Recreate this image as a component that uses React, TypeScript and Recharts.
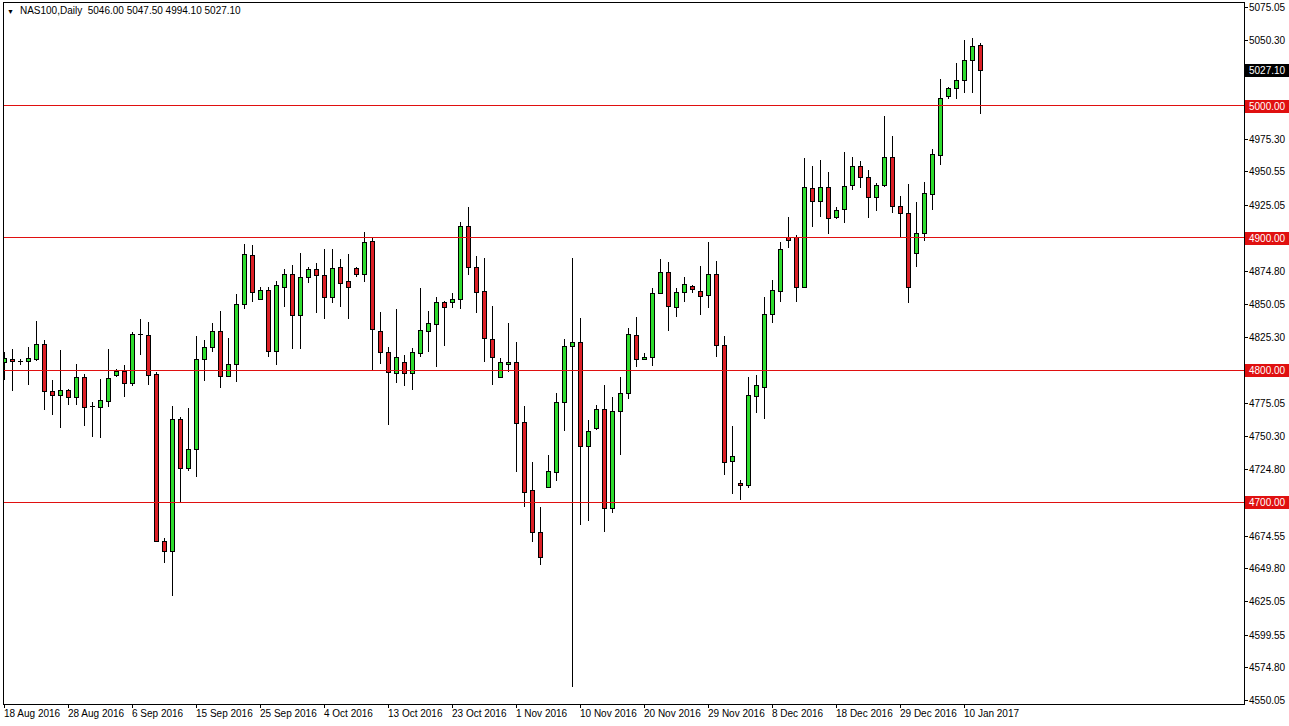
import React from "react";
import { ComposedChart, Bar, XAxis, YAxis, ReferenceLine } from "recharts";

// NAS100 daily bars, 18 Aug 2016 .. 12 Jan 2017
const opens = [
  4806.1, 4808.1, 4806.5, 4806.6, 4808.6, 4819.7, 4784.1, 4780.8, 4784.8, 4779.3,
  4794.5, 4772.7, 4772.2, 4776.7, 4796.4, 4799.5, 4789.9, 4827.0, 4826.3, 4797.0,
  4670.7, 4663.1, 4762.6, 4726.0, 4739.9, 4808.1, 4817.7, 4829.3, 4795.5, 4804.3,
  4850.0, 4887.1, 4854.0, 4860.6, 4814.6, 4863.1, 4872.7, 4841.4, 4870.7, 4876.3,
  4871.7, 4855.5, 4877.8, 4867.4, 4877.0, 4872.5, 4897.5, 4829.5, 4813.9, 4797.5,
  4806.3, 4797.5, 4813.1, 4829.8, 4834.6, 4851.3, 4851.3, 4853.6, 4909.1, 4877.8,
  4859.6, 4823.3, 4794.9, 4804.5, 4805.8, 4760.4, 4708.9, 4677.0, 4711.1, 4723.0,
  4775.5, 4818.2, 4821.0, 4742.4, 4756.3, 4770.7, 4695.2, 4768.9, 4782.3, 4826.5,
  4808.1, 4809.6, 4858.6, 4874.0, 4848.0, 4858.9, 4863.9, 4860.1, 4856.8, 4872.7,
  4818.7, 4730.8, 4714.6, 4712.7, 4780.5, 4787.4, 4842.4, 4860.1, 4900.5, 4900.5,
  4863.1, 4937.7, 4928.3, 4938.9, 4916.1, 4921.7, 4939.9, 4954.5, 4946.4, 4931.3,
  4940.2, 4961.6, 4924.2, 4919.2, 4888.4, 4903.6, 4933.3, 4962.9, 5007.6, 5013.4,
  5019.7, 5034.8, 5046.0,
];
const highs = [
  4813.6, 4815.7, 4808.6, 4817.2, 4837.3, 4822.7, 4792.4, 4815.2, 4785.5, 4804.5,
  4797.0, 4776.0, 4793.2, 4815.7, 4801.0, 4803.6, 4829.0, 4838.4, 4836.4, 4798.5,
  4672.5, 4772.7, 4764.6, 4771.0, 4825.8, 4822.7, 4835.4, 4844.7, 4824.0, 4857.6,
  4895.5, 4894.7, 4862.6, 4862.6, 4867.7, 4876.3, 4879.5, 4888.9, 4878.3, 4880.8,
  4891.4, 4891.4, 4883.9, 4887.9, 4878.3, 4904.8, 4901.0, 4843.9, 4817.7, 4846.0,
  4811.4, 4816.4, 4861.9, 4844.9, 4855.1, 4852.3, 4858.6, 4912.4, 4923.7, 4886.4,
  4884.6, 4848.5, 4808.9, 4835.4, 4821.4, 4772.7, 4730.0, 4696.0, 4735.6, 4782.8,
  4823.3, 4884.8, 4839.4, 4762.1, 4773.5, 4788.6, 4779.3, 4794.5, 4831.6, 4839.9,
  4812.6, 4861.9, 4883.9, 4882.0, 4861.9, 4870.2, 4864.5, 4878.8, 4897.2, 4882.8,
  4825.8, 4757.6, 4716.7, 4794.5, 4796.2, 4855.1, 4868.2, 4897.2, 4915.7, 4902.3,
  4960.4, 4954.5, 4959.1, 4950.2, 4923.7, 4965.4, 4961.6, 4958.6, 4951.5, 4941.9,
  4992.4, 4977.3, 4931.8, 4940.7, 4927.0, 4942.2, 4967.2, 5020.2, 5014.2, 5032.8,
  5050.0, 5051.3, 5047.5,
];
const lows = [
  4792.4, 4784.3, 4803.5, 4788.6, 4806.8, 4769.7, 4765.9, 4755.8, 4773.5, 4773.5,
  4757.6, 4749.5, 4748.5, 4772.2, 4794.5, 4779.8, 4788.1, 4811.4, 4788.6, 4669.5,
  4654.0, 4628.8, 4699.8, 4723.7, 4719.2, 4791.9, 4813.9, 4786.1, 4794.9, 4791.1,
  4846.0, 4851.7, 4853.0, 4810.1, 4804.0, 4848.0, 4815.7, 4816.1, 4866.1, 4843.0,
  4838.4, 4851.0, 4847.5, 4838.4, 4870.2, 4866.4, 4799.5, 4804.5, 4758.3, 4790.4,
  4788.1, 4784.8, 4810.1, 4813.9, 4802.5, 4818.2, 4846.7, 4846.0, 4872.0, 4843.4,
  4806.3, 4788.6, 4793.7, 4798.7, 4723.0, 4696.4, 4670.0, 4652.3, 4710.5, 4716.1,
  4754.0, 4560.1, 4682.3, 4685.8, 4754.5, 4677.0, 4691.4, 4735.6, 4777.8, 4802.5,
  4807.6, 4803.0, 4857.6, 4829.8, 4840.0, 4851.7, 4858.1, 4841.7, 4846.7, 4809.6,
  4720.5, 4706.1, 4701.5, 4710.4, 4767.2, 4762.6, 4835.8, 4851.7, 4892.2, 4851.7,
  4861.9, 4908.1, 4916.1, 4903.0, 4914.2, 4911.6, 4936.4, 4937.7, 4915.4, 4920.5,
  4938.4, 4918.7, 4899.8, 4850.5, 4878.3, 4898.0, 4921.2, 4955.3, 5005.1, 5005.1,
  5010.1, 5010.1, 4994.1,
];
const closes = [
  4809.1, 4806.6, 4806.6, 4808.9, 4819.7, 4783.9, 4780.8, 4784.8, 4779.3, 4794.5,
  4772.2, 4772.7, 4777.3, 4793.7, 4799.5, 4789.9, 4827.0, 4827.0, 4796.4, 4670.7,
  4663.1, 4762.6, 4726.0, 4739.9, 4808.1, 4817.2, 4829.3, 4795.5, 4804.3, 4850.0,
  4887.9, 4859.3, 4860.6, 4814.6, 4864.4, 4872.7, 4841.4, 4870.2, 4876.3, 4871.7,
  4855.5, 4877.0, 4866.1, 4862.6, 4872.5, 4896.7, 4830.8, 4813.4, 4798.7, 4809.6,
  4798.0, 4813.4, 4830.3, 4835.4, 4851.3, 4847.5, 4853.8, 4909.1, 4877.8, 4859.1,
  4824.0, 4810.1, 4805.8, 4806.1, 4759.6, 4707.8, 4677.0, 4658.6, 4723.3, 4775.5,
  4818.2, 4821.0, 4742.4, 4753.8, 4770.5, 4695.2, 4768.9, 4782.3, 4827.0, 4808.1,
  4809.6, 4858.6, 4874.0, 4848.7, 4858.9, 4864.9, 4861.1, 4856.1, 4872.7, 4818.7,
  4730.3, 4734.8, 4712.7, 4781.1, 4788.6, 4842.4, 4860.6, 4891.7, 4898.5, 4863.1,
  4938.4, 4928.3, 4938.9, 4914.9, 4921.2, 4939.6, 4954.5, 4946.0, 4931.3, 4940.2,
  4961.6, 4924.2, 4919.2, 4863.1, 4904.0, 4933.9, 4963.6, 5005.8, 5013.4, 5019.7,
  5034.8, 5045.5, 5027.1,
];

const dateLabels = [
  "18 Aug 2016", "28 Aug 2016", "6 Sep 2016", "15 Sep 2016", "25 Sep 2016",
  "4 Oct 2016", "13 Oct 2016", "23 Oct 2016", "1 Nov 2016", "10 Nov 2016",
  "20 Nov 2016", "29 Nov 2016", "8 Dec 2016", "18 Dec 2016", "29 Dec 2016",
  "10 Jan 2017",
];
const dateTickBars = [0, 8, 16, 24, 32, 40, 48, 56, 64, 72, 80, 88, 96, 104, 112, 120];

const priceTicks = [
  5075.05, 5050.3, 4975.3, 4950.55, 4925.05, 4874.8, 4850.05, 4825.3,
  4775.05, 4750.3, 4724.8, 4674.55, 4649.8, 4625.05, 4599.55, 4574.8, 4550.05,
];
const levels = [5000, 4900, 4800, 4700];
const lastPrice = 5027.1;

const UP = "#2edc2e";
const DOWN = "#dc1f26";
const LEVEL = "#e01010";
const FONT = "'Liberation Sans', Arial, sans-serif";

const data = opens.map((o, i) => ({
  bar: i,
  open: o,
  high: highs[i],
  low: lows[i],
  close: closes[i],
  range: [lows[i], highs[i]],
}));

const Candle = (props: any) => {
  const { x, y, width, height, payload } = props;
  if (x == null || y == null) return null;
  const { open, close, high, low } = payload;
  const top = Math.min(y, y + height);
  const h = Math.abs(height);
  const k = h / (high - low);
  const py = (v: number) => top + (high - v) * k;
  const c = Math.round(x + width / 2);
  const yo = Math.round(py(open));
  const yc = Math.round(py(close));
  const bTop = Math.min(yo, yc);
  const bBot = Math.max(yo, yc);
  const up = close >= open;
  return (
    <g shapeRendering="crispEdges">
      <line x1={c - 0.5} x2={c - 0.5} y1={Math.round(top)} y2={Math.round(top + h)} stroke="#000" strokeWidth={1} />
      {bBot - bTop < 1 ? (
        <line x1={c - 3} x2={c + 2} y1={bTop + 0.5} y2={bTop + 0.5} stroke="#000" strokeWidth={1} />
      ) : (
        <rect x={c - 2.5} y={bTop + 0.5} width={4} height={bBot - bTop} fill={up ? UP : DOWN} stroke="#000" strokeWidth={1} />
      )}
    </g>
  );
};

const PriceTick = (props: any) => {
  const { x, y, payload } = props;
  const v = payload.value;
  const isLevel = levels.includes(v);
  const isLast = v === lastPrice;
  const ry = Math.round(y);
  if (isLevel || isLast) {
    return (
      <g>
        <rect x={x + 1} y={ry - 6} width={44} height={13} fill={isLast ? "#000" : LEVEL} />
        <text x={x + 5} y={ry + 4} fontSize={10} fontFamily={FONT} fill="#fff">
          {v.toFixed(2)}
        </text>
      </g>
    );
  }
  return (
    <g>
      <line x1={x} x2={x + 4} y1={ry + 0.5} y2={ry + 0.5} stroke="#000" shapeRendering="crispEdges" />
      <text x={x + 5} y={ry + 4} fontSize={10} fontFamily={FONT} fill="#000">
        {v.toFixed(2)}
      </text>
    </g>
  );
};

const DateTick = (props: any) => {
  const { x, y, payload } = props;
  const k = dateTickBars.indexOf(payload.value);
  const cx = Math.round(x);
  return (
    <g>
      <line x1={cx - 0.5} x2={cx - 0.5} y1={y} y2={y + 4} stroke="#000" shapeRendering="crispEdges" />
      <text x={cx - 1} y={y + 13} fontSize={10} fontFamily={FONT} fill="#000">
        {dateLabels[k]}
      </text>
    </g>
  );
};

export default function App() {
  const last = opens.length - 1;
  return (
    <div style={{ position: "absolute", left: 0, top: 0, width: 1289, height: 726, background: "#fff" }}>
      <ComposedChart
        width={1289}
        height={726}
        data={data}
        margin={{ top: 3, right: 0, bottom: 0, left: 3 }}
      >
        <XAxis
          dataKey="bar"
          type="number"
          domain={[-0.2875, 154.8375]}
          allowDataOverflow
          ticks={dateTickBars}
          interval={0}
          height={22}
          axisLine={false}
          tickLine={false}
          tickSize={0}
          tickMargin={0}
          tick={<DateTick />}
        />
        <YAxis
          orientation="right"
          type="number"
          domain={[4546.97, 5078.03]}
          allowDataOverflow
          ticks={[...priceTicks, ...levels, lastPrice]}
          interval={0}
          width={45}
          axisLine={false}
          tickLine={false}
          tickSize={0}
          tickMargin={0}
          tick={<PriceTick />}
        />
        {levels.map((lv) => (
          <ReferenceLine key={lv} y={lv} stroke={LEVEL} strokeWidth={1} shapeRendering="crispEdges" />
        ))}
        <Bar dataKey="range" barSize={5} shape={<Candle />} isAnimationActive={false} />
      </ComposedChart>
      <div
        style={{
          position: "absolute",
          left: 3,
          top: 2,
          width: 1240,
          height: 701,
          border: "1px solid #000",
          pointerEvents: "none",
        }}
      />
      <div
        style={{
          position: "absolute",
          left: 7,
          top: 5,
          fontFamily: FONT,
          fontSize: 10,
          color: "#000",
          whiteSpace: "pre",
        }}
      >
        <span style={{ fontSize: 7, marginRight: 6 }}>▼</span>
        {`NAS100,Daily  ${opens[last].toFixed(2)} ${highs[last].toFixed(2)} ${lows[last].toFixed(2)} ${closes[last].toFixed(2)}`}
      </div>
    </div>
  );
}
